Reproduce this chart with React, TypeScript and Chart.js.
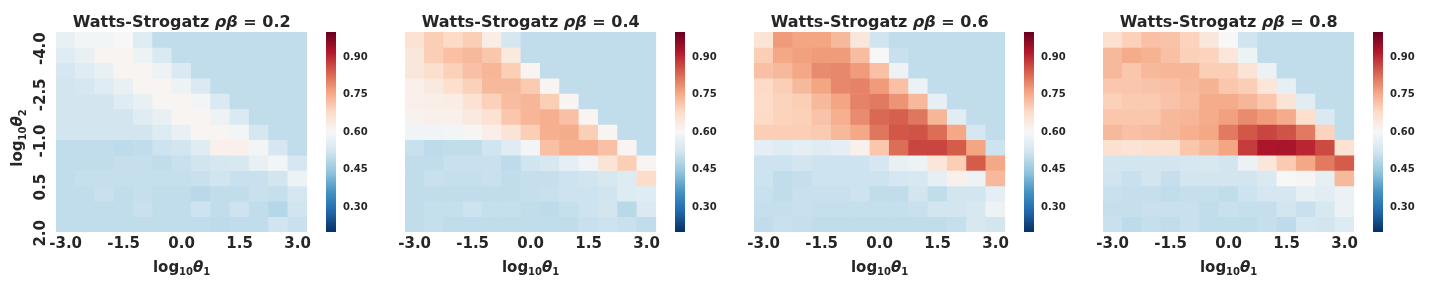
import React, { useEffect, useRef } from 'react';
import { Chart, registerables } from 'chart.js';

Chart.register(...registerables);

// ---------------- data ----------------
const X_LABELS = ['-3.0', '-2.5', '-2.0', '-1.5', '-1.0', '-0.5', '0.0', '0.5', '1.0', '1.5', '2.0', '2.5', '3.0'];
const Y_LABELS = ['-4.0', '-3.5', '-3.0', '-2.5', '-2.0', '-1.5', '-1.0', '-0.5', '0.0', '0.5', '1.0', '1.5', '2.0'];
const TICK_EVERY = 3;
const RHO_BETA = ['0.2', '0.4', '0.6', '0.8'];

const WS_02 = [
  [0.57, 0.59, 0.59, 0.60, 0.55, 0.50, 0.50, 0.50, 0.50, 0.50, 0.50, 0.50, 0.50],
  [0.55, 0.57, 0.61, 0.61, 0.58, 0.54, 0.50, 0.50, 0.50, 0.50, 0.50, 0.50, 0.50],
  [0.53, 0.55, 0.57, 0.61, 0.61, 0.58, 0.54, 0.50, 0.50, 0.50, 0.50, 0.50, 0.50],
  [0.525, 0.53, 0.55, 0.57, 0.61, 0.61, 0.58, 0.54, 0.50, 0.50, 0.50, 0.50, 0.50],
  [0.525, 0.525, 0.525, 0.55, 0.57, 0.61, 0.61, 0.59, 0.54, 0.50, 0.50, 0.50, 0.50],
  [0.525, 0.525, 0.525, 0.525, 0.55, 0.57, 0.61, 0.61, 0.58, 0.54, 0.50, 0.50, 0.50],
  [0.525, 0.525, 0.525, 0.525, 0.525, 0.545, 0.57, 0.61, 0.61, 0.59, 0.53, 0.50, 0.50],
  [0.50, 0.50, 0.50, 0.495, 0.50, 0.515, 0.525, 0.55, 0.62, 0.62, 0.59, 0.53, 0.50],
  [0.50, 0.50, 0.50, 0.505, 0.505, 0.50, 0.51, 0.52, 0.53, 0.535, 0.57, 0.59, 0.53],
  [0.50, 0.505, 0.505, 0.505, 0.505, 0.505, 0.505, 0.51, 0.52, 0.51, 0.51, 0.525, 0.58],
  [0.50, 0.50, 0.51, 0.50, 0.505, 0.50, 0.50, 0.49, 0.50, 0.50, 0.51, 0.505, 0.53],
  [0.50, 0.50, 0.50, 0.50, 0.51, 0.50, 0.50, 0.515, 0.50, 0.515, 0.50, 0.485, 0.52],
  [0.50, 0.50, 0.50, 0.50, 0.50, 0.50, 0.50, 0.50, 0.495, 0.50, 0.50, 0.52, 0.51],
];

const WS_04 = [
  [0.66, 0.70, 0.68, 0.70, 0.63, 0.53, 0.50, 0.50, 0.50, 0.50, 0.50, 0.50, 0.50],
  [0.645, 0.70, 0.72, 0.73, 0.71, 0.64, 0.50, 0.50, 0.50, 0.50, 0.50, 0.50, 0.50],
  [0.645, 0.67, 0.695, 0.72, 0.735, 0.70, 0.61, 0.50, 0.50, 0.50, 0.50, 0.50, 0.50],
  [0.62, 0.64, 0.67, 0.695, 0.73, 0.73, 0.705, 0.61, 0.50, 0.50, 0.50, 0.50, 0.50],
  [0.62, 0.625, 0.63, 0.66, 0.695, 0.725, 0.735, 0.70, 0.61, 0.50, 0.50, 0.50, 0.50],
  [0.615, 0.62, 0.62, 0.64, 0.66, 0.71, 0.735, 0.745, 0.72, 0.61, 0.50, 0.50, 0.50],
  [0.585, 0.585, 0.59, 0.605, 0.625, 0.655, 0.70, 0.745, 0.75, 0.70, 0.61, 0.50, 0.50],
  [0.51, 0.495, 0.50, 0.50, 0.52, 0.55, 0.59, 0.72, 0.745, 0.745, 0.72, 0.61, 0.50],
  [0.50, 0.50, 0.51, 0.51, 0.51, 0.495, 0.52, 0.535, 0.56, 0.585, 0.655, 0.70, 0.61],
  [0.50, 0.51, 0.505, 0.505, 0.51, 0.50, 0.505, 0.505, 0.515, 0.52, 0.535, 0.545, 0.675],
  [0.50, 0.50, 0.50, 0.50, 0.50, 0.50, 0.505, 0.51, 0.515, 0.515, 0.52, 0.545, 0.55],
  [0.50, 0.505, 0.505, 0.515, 0.505, 0.505, 0.50, 0.495, 0.505, 0.515, 0.525, 0.49, 0.54],
  [0.50, 0.505, 0.50, 0.50, 0.50, 0.50, 0.50, 0.50, 0.50, 0.51, 0.515, 0.51, 0.50],
];

const WS_06 = [
  [0.655, 0.77, 0.76, 0.76, 0.73, 0.645, 0.52, 0.50, 0.50, 0.50, 0.50, 0.50, 0.50],
  [0.70, 0.755, 0.765, 0.77, 0.77, 0.725, 0.60, 0.51, 0.50, 0.50, 0.50, 0.50, 0.50],
  [0.72, 0.73, 0.755, 0.79, 0.795, 0.77, 0.72, 0.58, 0.50, 0.50, 0.50, 0.50, 0.50],
  [0.68, 0.70, 0.73, 0.76, 0.795, 0.80, 0.77, 0.72, 0.575, 0.50, 0.50, 0.50, 0.50],
  [0.675, 0.69, 0.70, 0.73, 0.76, 0.80, 0.81, 0.78, 0.73, 0.565, 0.50, 0.50, 0.50],
  [0.68, 0.69, 0.695, 0.715, 0.745, 0.79, 0.83, 0.84, 0.815, 0.735, 0.555, 0.50, 0.50],
  [0.70, 0.70, 0.70, 0.705, 0.73, 0.755, 0.815, 0.85, 0.855, 0.825, 0.755, 0.53, 0.50],
  [0.56, 0.55, 0.56, 0.55, 0.56, 0.62, 0.71, 0.825, 0.87, 0.87, 0.845, 0.76, 0.515],
  [0.515, 0.515, 0.525, 0.515, 0.515, 0.515, 0.53, 0.57, 0.58, 0.65, 0.70, 0.845, 0.755],
  [0.515, 0.50, 0.505, 0.515, 0.515, 0.515, 0.515, 0.53, 0.535, 0.565, 0.62, 0.58, 0.73],
  [0.51, 0.50, 0.51, 0.51, 0.51, 0.515, 0.50, 0.50, 0.525, 0.50, 0.525, 0.525, 0.56],
  [0.505, 0.505, 0.51, 0.505, 0.505, 0.505, 0.505, 0.505, 0.51, 0.525, 0.525, 0.535, 0.58],
  [0.50, 0.51, 0.505, 0.50, 0.50, 0.50, 0.50, 0.50, 0.50, 0.50, 0.505, 0.535, 0.525],
];

const WS_08 = [
  [0.665, 0.695, 0.72, 0.715, 0.69, 0.645, 0.60, 0.52, 0.50, 0.50, 0.50, 0.50, 0.50],
  [0.73, 0.75, 0.74, 0.72, 0.695, 0.69, 0.65, 0.58, 0.50, 0.50, 0.50, 0.50, 0.50],
  [0.73, 0.71, 0.73, 0.735, 0.735, 0.70, 0.70, 0.655, 0.575, 0.50, 0.50, 0.50, 0.50],
  [0.71, 0.71, 0.715, 0.72, 0.73, 0.74, 0.71, 0.70, 0.65, 0.565, 0.50, 0.50, 0.50],
  [0.695, 0.705, 0.705, 0.715, 0.725, 0.75, 0.75, 0.735, 0.71, 0.655, 0.555, 0.50, 0.50],
  [0.71, 0.71, 0.71, 0.73, 0.735, 0.75, 0.765, 0.79, 0.77, 0.75, 0.67, 0.54, 0.50],
  [0.73, 0.72, 0.725, 0.73, 0.745, 0.755, 0.81, 0.85, 0.87, 0.855, 0.81, 0.69, 0.50],
  [0.665, 0.655, 0.665, 0.665, 0.71, 0.73, 0.76, 0.88, 0.925, 0.93, 0.905, 0.865, 0.66],
  [0.525, 0.525, 0.525, 0.525, 0.53, 0.535, 0.525, 0.575, 0.645, 0.705, 0.755, 0.81, 0.845],
  [0.52, 0.51, 0.525, 0.505, 0.525, 0.525, 0.525, 0.525, 0.54, 0.60, 0.605, 0.565, 0.73],
  [0.51, 0.505, 0.505, 0.50, 0.505, 0.505, 0.50, 0.515, 0.53, 0.53, 0.565, 0.555, 0.575],
  [0.505, 0.505, 0.51, 0.51, 0.51, 0.50, 0.51, 0.505, 0.505, 0.525, 0.51, 0.535, 0.575],
  [0.51, 0.495, 0.505, 0.50, 0.51, 0.50, 0.50, 0.50, 0.505, 0.495, 0.53, 0.525, 0.545],
];

const MATRICES = [WS_02, WS_04, WS_06, WS_08];

const CBAR_MIN = 0.2;
const CBAR_MAX = 1.0;
const CBAR_TICKS = [0.3, 0.45, 0.6, 0.75, 0.9];

// RdBu_r colormap anchors
const RDBU_R = ['#053061', '#2166ac', '#4393c3', '#92c5de', '#d1e5f0', '#f7f7f7', '#fddbc7', '#f4a582', '#d6604d', '#b2182b', '#67001f'];

// ---------------- styles ----------------
const FONT = "'DejaVu Sans', 'Liberation Sans', sans-serif";
const TEXT = '#262626';
const PANEL_STEP = 349;
const HEAT_LEFT0 = 56;
const HEAT_W = 254;
const AXIS_W = 56;
const AXIS_H = 56;
const TOP = 32;
const CANVAS_H = 288;
const CBAR_GAP = 16;
const CBAR_W = 10;
const Y_LABEL_SHIFT = 9;
const TITLE_BASELINE = 27;
const XTITLE_BASELINE = 271.5;
const YTITLE_BASELINE_X = 22;
const YTITLE_SHIFT = 6;

Chart.defaults.font.family = FONT;

const RGB = RDBU_R.map((h) => [parseInt(h.slice(1, 3), 16), parseInt(h.slice(3, 5), 16), parseInt(h.slice(5, 7), 16)]);

function colorFor(v: number): string {
  let t = (v - CBAR_MIN) / (CBAR_MAX - CBAR_MIN);
  t = Math.max(0, Math.min(1, t));
  const p = t * (RGB.length - 1);
  const i = Math.min(RGB.length - 2, Math.floor(p));
  const f = p - i;
  const a = RGB[i];
  const b = RGB[i + 1];
  const c = a.map((x, k) => Math.round(x + (b[k] - x) * f));
  return `rgb(${c[0]},${c[1]},${c[2]})`;
}

type Run = { text: string; font: string; dy?: number };

const F_TITLE = `bold 16px ${FONT}`;
const F_TITLE_IT = `italic bold 16px ${FONT}`;
const F_AX = `bold 15px ${FONT}`;
const F_AX_IT = `italic bold 15px ${FONT}`;
const F_SUB = `bold 10px ${FONT}`;
const SUB_DY = 3.5;

function drawRuns(ctx: CanvasRenderingContext2D, runs: Run[], x: number, y: number, rot = 0) {
  ctx.save();
  ctx.translate(x, y);
  ctx.rotate(rot);
  ctx.fillStyle = TEXT;
  ctx.textAlign = 'left';
  ctx.textBaseline = 'alphabetic';
  const widths = runs.map((r) => {
    ctx.font = r.font;
    return ctx.measureText(r.text).width;
  });
  const total = widths.reduce((a, b) => a + b, 0);
  let cx = -total / 2;
  runs.forEach((r, i) => {
    ctx.font = r.font;
    ctx.fillText(r.text, cx, r.dy || 0);
    cx += widths[i];
  });
  ctx.restore();
}

function axisRuns(sub: string): Run[] {
  return [
    { text: 'log', font: F_AX },
    { text: '10', font: F_SUB, dy: SUB_DY },
    { text: 'θ', font: F_AX_IT },
    { text: sub, font: F_SUB, dy: SUB_DY },
  ];
}

function makeTextPlugin(rho: string, showY: boolean) {
  return {
    id: 'mixedText',
    afterDraw(chart: any) {
      const ctx = chart.ctx as CanvasRenderingContext2D;
      const area = chart.chartArea;
      const cx = (area.left + area.right) / 2;
      drawRuns(
        ctx,
        [
          { text: 'Watts-Strogatz ', font: F_TITLE },
          { text: 'ρβ', font: F_TITLE_IT },
          { text: ` = ${rho}`, font: F_TITLE },
        ],
        cx,
        TITLE_BASELINE
      );
      drawRuns(ctx, axisRuns('1'), cx, XTITLE_BASELINE);
      if (!showY) return;
      const s = chart.scales.y;
      drawRuns(ctx, axisRuns('2'), YTITLE_BASELINE_X, (area.top + area.bottom) / 2 + YTITLE_SHIFT, -Math.PI / 2);
      ctx.save();
      ctx.font = F_AX;
      ctx.fillStyle = TEXT;
      ctx.textAlign = 'center';
      ctx.textBaseline = 'middle';
      Y_LABELS.forEach((lab, i) => {
        if (i % TICK_EVERY !== 0) return;
        const y = s.getPixelForValue(i + 0.5) + Y_LABEL_SHIFT;
        ctx.save();
        ctx.translate(s.right - 15, y);
        ctx.rotate(-Math.PI / 2);
        ctx.fillText(lab, 0, 0);
        ctx.restore();
      });
      ctx.restore();
    },
  };
}

function Heatmap({ matrix, rho, index }: { matrix: number[][]; rho: string; index: number }) {
  const ref = useRef<HTMLCanvasElement>(null);
  const showY = index === 0;
  const width = AXIS_W + HEAT_W + 4;
  const left = HEAT_LEFT0 + PANEL_STEP * index - AXIS_W;
  useEffect(() => {
    const datasets = matrix.map((row, r) => ({
      label: Y_LABELS[r],
      data: row.map(() => 1),
      backgroundColor: row.map(colorFor),
      borderWidth: 0,
      barPercentage: 1,
      categoryPercentage: 1,
      stack: 'grid',
    }));
    const axisFont = { family: FONT, size: 15, weight: 'bold' as const };
    const chart = new Chart(ref.current as HTMLCanvasElement, {
      type: 'bar',
      data: { labels: X_LABELS, datasets },
      options: {
        animation: false,
        responsive: false,
        events: [],
        layout: { padding: { left: 0, right: 4, top: TOP, bottom: 0 } },
        plugins: {
          legend: { display: false },
          tooltip: { enabled: false },
          title: { display: false },
        },
        scales: {
          x: {
            stacked: true,
            grid: { display: false, drawTicks: false },
            border: { display: false },
            ticks: {
              autoSkip: false,
              minRotation: 0,
              maxRotation: 0,
              color: TEXT,
              font: axisFont,
              padding: 3,
              callback: (_v: any, i: number) => (i % TICK_EVERY === 0 ? X_LABELS[i] : ''),
            },
            title: { display: false },
            afterFit: (s: any) => {
              s.height = AXIS_H;
            },
          },
          y: {
            stacked: true,
            min: 0,
            max: Y_LABELS.length,
            reverse: true,
            grid: { display: false, drawTicks: false },
            border: { display: false },
            ticks: { display: false },
            title: { display: false },
            afterFit: (s: any) => {
              s.width = AXIS_W;
            },
          },
        },
      },
      plugins: [makeTextPlugin(rho, showY)],
    } as any);
    return () => chart.destroy();
  }, []);
  return (
    <canvas
      ref={ref}
      width={width}
      height={CANVAS_H}
      style={{ position: 'absolute', left, top: 0, width, height: CANVAS_H }}
    />
  );
}

function Colorbar({ index }: { index: number }) {
  const ref = useRef<HTMLCanvasElement>(null);
  const width = CBAR_W + 50;
  const left = HEAT_LEFT0 + PANEL_STEP * index + HEAT_W + CBAR_GAP;
  useEffect(() => {
    const chart = new Chart(ref.current as HTMLCanvasElement, {
      type: 'bar',
      data: {
        labels: [''],
        datasets: [
          {
            data: [[CBAR_MIN, CBAR_MAX]],
            borderWidth: 0,
            barPercentage: 1,
            categoryPercentage: 1,
            backgroundColor: (ctx: any) => {
              const area = ctx.chart.chartArea;
              if (!area) return RDBU_R[5];
              const g = ctx.chart.ctx.createLinearGradient(0, area.bottom, 0, area.top);
              RDBU_R.forEach((c, i) => g.addColorStop(i / (RDBU_R.length - 1), c));
              return g;
            },
          },
        ],
      },
      options: {
        animation: false,
        responsive: false,
        events: [],
        layout: { padding: { top: TOP, bottom: AXIS_H, left: 0, right: 0 } },
        plugins: { legend: { display: false }, tooltip: { enabled: false } },
        scales: {
          x: { display: false },
          y: {
            position: 'right',
            min: CBAR_MIN,
            max: CBAR_MAX,
            grid: { display: false, drawTicks: false },
            border: { display: false },
            afterBuildTicks: (s: any) => {
              s.ticks = CBAR_TICKS.map((v) => ({ value: v }));
            },
            ticks: {
              color: TEXT,
              font: { family: FONT, size: 10, weight: 'bold' },
              padding: 7,
              callback: (v: any) => Number(v).toFixed(2),
            },
            afterFit: (s: any) => {
              s.width = 50;
            },
          },
        },
      },
    } as any);
    return () => chart.destroy();
  }, []);
  return (
    <canvas
      ref={ref}
      width={width}
      height={CANVAS_H}
      style={{ position: 'absolute', left, top: 0, width, height: CANVAS_H }}
    />
  );
}

export default function App() {
  return (
    <div style={{ position: 'fixed', left: 0, top: 0, width: 1440, height: CANVAS_H, background: '#ffffff', overflow: 'hidden' }}>
      {MATRICES.map((m, i) => (
        <React.Fragment key={i}>
          <Heatmap matrix={m} rho={RHO_BETA[i]} index={i} />
          <Colorbar index={i} />
        </React.Fragment>
      ))}
    </div>
  );
}
